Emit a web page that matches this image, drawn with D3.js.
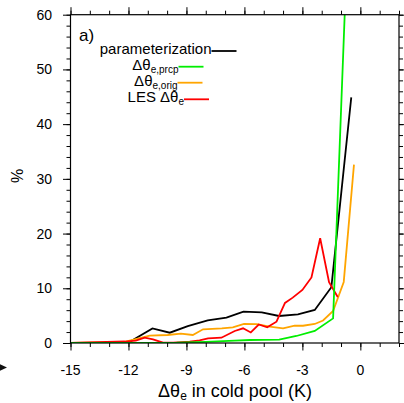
<!DOCTYPE html>
<html>
<head>
<meta charset="utf-8">
<script src="https://cdn.jsdelivr.net/npm/d3@7"></script>
<style>
  html, body { margin: 0; padding: 0; background: #fff; }
  svg { display: block; font-family: "Liberation Sans", Arial, Helvetica, sans-serif; }
</style>
</head>
<body>
<svg id="chart" width="404" height="403"></svg>
<script>
// Distribution of cold-pool theta-e deficit (% of cells per bin)
const xTicks = [-15, -12, -9, -6, -3, 0];
const yTicks = [0, 10, 20, 30, 40, 50, 60];

const paramX = [-15, -12.04, -10.76, -9.86, -8.93, -7.9, -6.93, -6.05, -5.1, -4.21, -3.23, -2.36, -1.5, -0.47];
const paramY = [0, 0, 2.65, 1.88, 3.1, 4.15, 4.63, 5.73, 5.6, 4.94, 5.25, 6.04, 10.2, 44.9];

const prcpX = [-15, -9.5, -8, -6.5, -5.72, -4.2, -3.31, -2.36, -1.41, -0.47];
const prcpY = [0, 0.05, 0.2, 0.45, 0.55, 0.6, 1.28, 2.2, 4.5, 91.5];

const orgX = [-15, -12.2, -10.9, -9.97, -9.29, -8.67, -8.14, -7.17, -6.6, -6.02, -5.36, -4.69, -4.0, -3.4, -2.97, -2.36, -1.93, -1.41, -0.86, -0.33];
const orgY = [0, 0.2, 1.34, 1.46, 1.7, 1.46, 2.5, 2.69, 2.87, 3.51, 3.44, 2.98, 2.69, 3.16, 3.15, 3.48, 4.12, 5.85, 11.16, 32.6];

const lesX = [-15, -12.19, -11.62, -11.16, -10.73, -10.21, -9.69, -8.83, -8.32, -7.88, -7.19, -6.5, -6.07, -5.67, -5.26, -4.82, -4.34, -3.9, -3.5, -3.0, -2.53, -2.08, -1.62, -1.17];
const lesY = [0, 0.27, 0.42, 0.97, 0.68, 0.05, 0.05, 0.24, 0.49, 0.86, 0.97, 2.2, 2.69, 1.92, 3.38, 2.87, 3.9, 7.32, 8.29, 9.7, 11.98, 19.15, 11.1, 8.41];

const svg = d3.select("#chart");
const L = 70.5, R = 399, T = 14.7, B = 343;

const x = d3.scaleLinear().domain([-15, 2]).range([L, R]);
const y = d3.scaleLinear().domain([0, 60]).range([B, T]);

svg.append("defs").append("clipPath").attr("id", "plot")
  .append("rect").attr("x", L).attr("y", T).attr("width", R - L).attr("height", B - T);

// series, drawn in back-to-front order
const series = [
  { xs: paramX, ys: paramY, color: "#000000" },
  { xs: orgX, ys: orgY, color: "#ffa500" },
  { xs: lesX, ys: lesY, color: "#ff0000" },
  { xs: prcpX, ys: prcpY, color: "#00ee00" }
];
const line = d3.line().x(d => x(d[0])).y(d => y(d[1]));
const g = svg.append("g").attr("clip-path", "url(#plot)");
series.forEach(s => {
  g.append("path")
    .datum(s.xs.map((v, i) => [v, s.ys[i]]))
    .attr("d", line)
    .attr("fill", "none")
    .attr("stroke", s.color)
    .attr("stroke-width", 1.8)
    .attr("stroke-linejoin", "miter");
});

// axes: ticks point outward on all four sides
const xMinor = d3.range(-15, 3, 1);
const yMinor = d3.range(0, 61, 2);
const axisStyle = sel => {
  sel.select(".domain").remove();
  sel.selectAll("line").attr("stroke", "#000").attr("stroke-width", 1);
};
svg.append("g").attr("transform", `translate(0,${B})`)
  .call(d3.axisBottom(x).tickValues(xMinor).tickSize(4).tickFormat("")).call(axisStyle);
svg.append("g").attr("transform", `translate(0,${B})`)
  .call(d3.axisBottom(x).tickValues(xTicks).tickSize(7.5).tickFormat("")).call(axisStyle);
svg.append("g").attr("transform", `translate(0,${T})`)
  .call(d3.axisTop(x).tickValues(xMinor).tickSize(4).tickFormat("")).call(axisStyle);
svg.append("g").attr("transform", `translate(0,${T})`)
  .call(d3.axisTop(x).tickValues(xTicks).tickSize(7.5).tickFormat("")).call(axisStyle);
svg.append("g").attr("transform", `translate(${L},0)`)
  .call(d3.axisLeft(y).tickValues(yMinor).tickSize(4).tickFormat("")).call(axisStyle);
svg.append("g").attr("transform", `translate(${L},0)`)
  .call(d3.axisLeft(y).tickValues(yTicks).tickSize(7.5).tickFormat("")).call(axisStyle);
svg.append("g").attr("transform", `translate(${R},0)`)
  .call(d3.axisRight(y).tickValues(yMinor).tickSize(4).tickFormat("")).call(axisStyle);
svg.append("g").attr("transform", `translate(${R},0)`)
  .call(d3.axisRight(y).tickValues(yTicks).tickSize(7.5).tickFormat("")).call(axisStyle);

// frame
svg.append("rect").attr("x", L).attr("y", T).attr("width", R - L).attr("height", B - T)
  .attr("fill", "none").attr("stroke", "#000").attr("stroke-width", 1.2);

// tick labels
svg.append("g").selectAll("text").data(xTicks).join("text")
  .attr("x", d => x(d)).attr("y", 374.5)
  .attr("text-anchor", "middle").attr("font-size", 14)
  .text(d => d);
svg.append("g").selectAll("text").data(yTicks).join("text")
  .attr("x", 52).attr("y", d => y(d) + 5)
  .attr("text-anchor", "end").attr("font-size", 14)
  .text(d => d);

// axis titles
svg.append("text").attr("transform", "translate(23,176) rotate(-90)")
  .attr("text-anchor", "middle").attr("font-size", 16).text("%");

const xt = svg.append("text").attr("x", 235).attr("y", 396.5)
  .attr("text-anchor", "middle").attr("font-size", 18);
xt.append("tspan").text("Δθ");
xt.append("tspan").attr("font-size", 12).attr("dy", 3).text("e");
xt.append("tspan").attr("dy", -3).text(" in cold pool (K)");

// panel label
svg.append("text").attr("x", 79).attr("y", 41).attr("font-size", 17).text("a)");

// legend
const legend = [
  { main: "parameterization", sub: "", color: "#000000", y: 51, x0: 211.5 },
  { main: "Δθ", sub: "e,prcp", color: "#00ee00", y: 66.7, x0: 178.5 },
  { main: "Δθ", sub: "e,orig", color: "#ffa500", y: 82.7, x0: 177.5 },
  { main: "LES Δθ", sub: "e", color: "#ff0000", y: 99.3, x0: 184 }
];
legend.forEach(d => {
  const t = svg.append("text").attr("x", d.x0).attr("y", d.y + 3)
    .attr("text-anchor", "end").attr("font-size", 15);
  t.append("tspan").text(d.main);
  if (d.sub) t.append("tspan").attr("font-size", 10).attr("dy", 3).text(d.sub);
  svg.append("line").attr("x1", d.x0).attr("x2", d.x0 + 25)
    .attr("y1", d.y).attr("y2", d.y)
    .attr("stroke", d.color).attr("stroke-width", 1.8);
});

// small marker at left margin
svg.append("path").attr("d", "M0,364.3 L7,367.5 L0,370.7 Z").attr("fill", "#111");
</script>
</body>
</html>
